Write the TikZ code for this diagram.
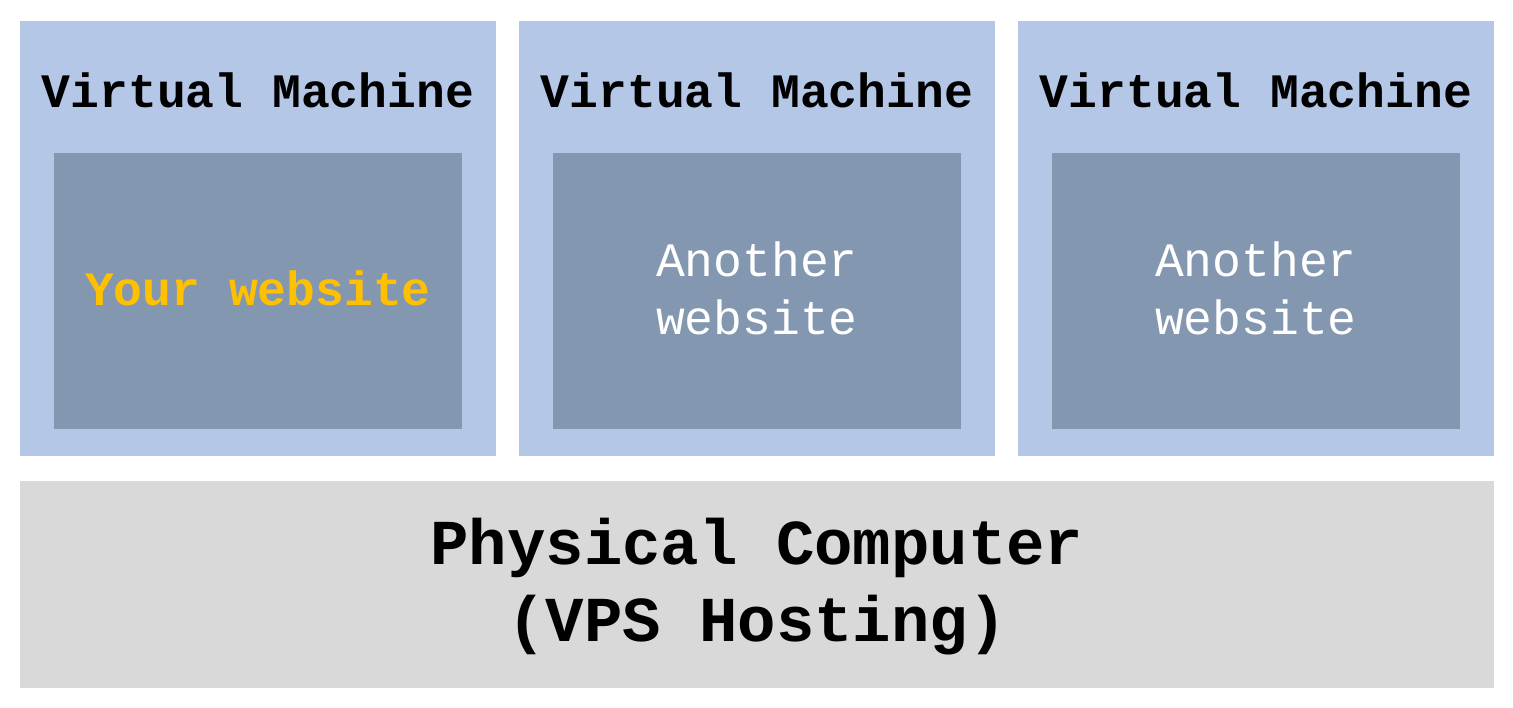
\documentclass[tikz,border=0pt]{standalone}
\usepackage{fontspec}
\setmonofont{Liberation Mono}
\definecolor{vmblue}{HTML}{B4C7E7}
\definecolor{innerblue}{HTML}{8497B0}
\definecolor{pcgray}{HTML}{D9D9D9}
\definecolor{yourorange}{HTML}{FFC000}
\begin{document}
\begin{tikzpicture}[x=1pt,y=-1pt,
  vmbox/.style={fill=vmblue,draw=none,inner sep=0pt,minimum width=476pt,minimum height=435pt},
  innerbox/.style={fill=innerblue,draw=none,inner sep=0pt,minimum width=408pt,minimum height=276pt},
  wtext/.style={inner sep=0pt,align=center,font=\ttfamily\fontsize{48}{58}\selectfont},
  vmtitle/.style={inner sep=0pt,font=\ttfamily\bfseries\fontsize{48}{58}\selectfont},
  pcbox/.style={fill=pcgray,draw=none,inner sep=0pt,minimum width=1474pt,minimum height=207pt},
  pctext/.style={inner sep=0pt,align=center,font=\ttfamily\bfseries\fontsize{64}{77}\selectfont}]
\useasboundingbox[fill=white] (0,0) rectangle (1513,708);
\node[vmbox] (vm1) at (258,238.5) {};
\node[vmbox] (vm2) at (757,238.5) {};
\node[vmbox] (vm3) at (1256,238.5) {};
\node[vmtitle] (t1) at (258,90) {Virtual Machine};
\node[vmtitle] (t2) at (757,90) {Virtual Machine};
\node[vmtitle] (t3) at (1256,90) {Virtual Machine};
\node[innerbox] (i1) at (258,291) {};
\node[innerbox] (i2) at (757,291) {};
\node[innerbox] (i3) at (1256,291) {};
\node[wtext,text=yourorange,font=\ttfamily\bfseries\fontsize{48}{58}\selectfont] (w1) at (258,288) {Your website};
\node[wtext,text=white] (w2) at (757,288) {Another\\website};
\node[wtext,text=white] (w3) at (1256,288) {Another\\website};
\node[pcbox] (pc) at (757,584.5) {};
\node[pctext] (pct) at (757,586.5) {Physical Computer\\(VPS Hosting)};
\end{tikzpicture}
\end{document}
